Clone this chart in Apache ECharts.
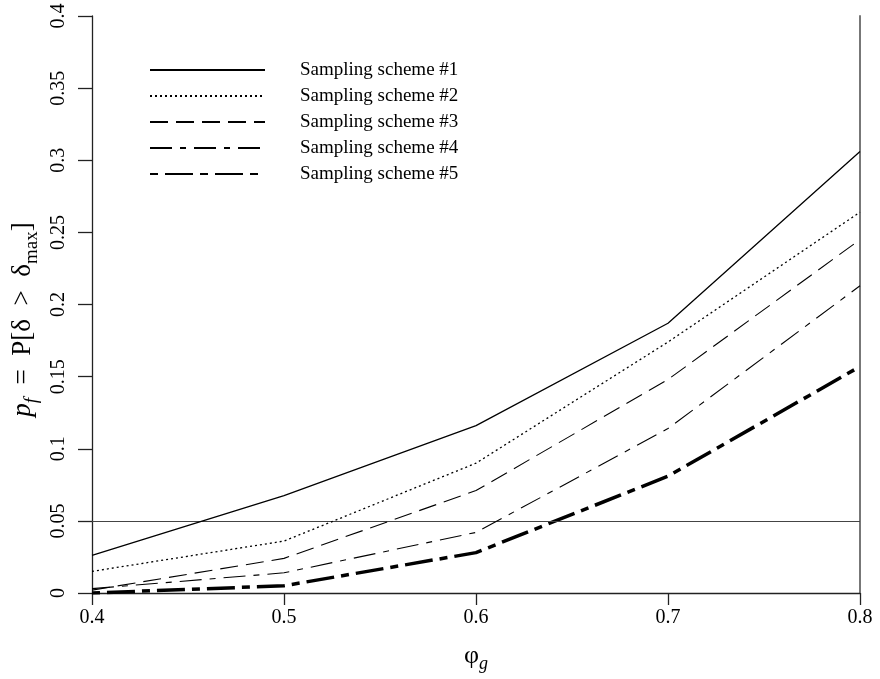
<!DOCTYPE html>
<html>
<head>
<meta charset="utf-8">
<script src="https://cdn.jsdelivr.net/npm/echarts@6/dist/echarts.min.js"></script>
<style>html,body{margin:0;padding:0;background:#fff}#c{width:880px;height:679px}</style>
</head>
<body>
<div id="c"></div>
<script>
const xValues = [0.4, 0.5, 0.6, 0.7, 0.8];
const seriesNames = ['Sampling scheme #1','Sampling scheme #2','Sampling scheme #3','Sampling scheme #4','Sampling scheme #5'];
const scheme1 = [0.026, 0.0675, 0.116, 0.187, 0.306];
const scheme2 = [0.015, 0.036, 0.090, 0.174, 0.264];
const scheme3 = [0.002, 0.024, 0.071, 0.148, 0.245];
const scheme4 = [0.003, 0.014, 0.042, 0.114, 0.213];
const scheme5 = [0.000, 0.005, 0.028, 0.081, 0.157];
const thresholdValue = 0.05;
const yTicks = {min: 0, max: 0.4, interval: 0.05};
const xTicks = {min: 0.4, max: 0.8, interval: 0.1};

const allData = [scheme1, scheme2, scheme3, scheme4, scheme5];
const styles = [
  {width: 1.3, type: 'solid'},
  {width: 1.3, type: [2, 3]},
  {width: 1.1, type: [18, 8]},
  {width: 1.1, type: [22, 8, 6, 8]},
  {width: 3.5, type: [8, 7, 28, 7]}
];
const FONT = '"Liberation Serif", "DejaVu Serif", serif';

const series = allData.map((d, i) => {
  const s = {
    name: seriesNames[i],
    type: 'line',
    data: xValues.map((x, j) => [x, d[j]]),
    symbol: 'none',
    showSymbol: false,
    lineStyle: Object.assign({color: '#000'}, styles[i]),
    itemStyle: {color: '#000'},
    z: 8 - i,
    animation: false
  };
  if (i === 0) {
    s.markLine = {
      silent: true,
      symbol: 'none',
      label: {show: false},
      lineStyle: {color: '#444', type: 'solid', width: 1.1},
      data: [{yAxis: thresholdValue}],
      animation: false
    };
  }
  return s;
});

const chart = echarts.init(document.getElementById('c'), null, {renderer: 'canvas'});
chart.setOption({
  backgroundColor: '#fff',
  animation: false,
  textStyle: {fontFamily: FONT},
  grid: {left: 92, right: 20, top: 16, bottom: 86},
  legend: {
    orient: 'vertical',
    left: 144,
    top: 54,
    itemWidth: 115,
    itemHeight: 14,
    itemGap: 4,
    data: seriesNames,
    itemStyle: {opacity: 0},
    textStyle: {fontFamily: FONT, fontSize: 19, lineHeight: 22, color: '#000', padding: [0, 0, 0, 30]},
    selectedMode: false
  },
  xAxis: {
    type: 'value',
    min: xTicks.min, max: xTicks.max, interval: xTicks.interval,
    axisLine: {show: true, onZero: false, lineStyle: {color: '#222', width: 1.3}},
    axisTick: {show: true, length: 12, lineStyle: {color: '#222', width: 1.3}},
    axisLabel: {margin: 15, fontSize: 20, color: '#000', fontFamily: FONT,
      formatter: v => (+v).toFixed(1)},
    splitLine: {show: false},
    name: '{m|φ}{s|g}',
    nameLocation: 'middle',
    nameGap: 46,
    nameTextStyle: {
      rich: {
        m: {fontFamily: FONT, fontSize: 26, color: '#000', verticalAlign: 'middle', lineHeight: 34},
        s: {fontFamily: FONT, fontSize: 18, fontStyle: 'italic', color: '#000', verticalAlign: 'bottom', lineHeight: 34}
      }
    }
  },
  yAxis: [{
    type: 'value',
    min: yTicks.min, max: yTicks.max, interval: yTicks.interval,
    axisLine: {show: true, onZero: false, lineStyle: {color: '#222', width: 1.3}},
    axisTick: {show: true, length: 14, lineStyle: {color: '#222', width: 1.3}},
    axisLabel: {margin: 23, rotate: 90, fontSize: 20, color: '#000', fontFamily: FONT,
      formatter: v => String(+(+v).toFixed(2))},
    splitLine: {show: false},
    name: '{i|p}{si|f}{m|  =  P[δ  >  δ}{s|max}{e|]}',
    nameLocation: 'middle',
    nameRotate: 90,
    nameGap: 42,
    nameTextStyle: {
      rich: {
        i: {fontFamily: FONT, fontSize: 27, fontStyle: 'italic', color: '#000', verticalAlign: 'middle', lineHeight: 36},
        m: {fontFamily: FONT, fontSize: 27, color: '#000', verticalAlign: 'middle', lineHeight: 36},
        e: {fontFamily: FONT, fontSize: 27, color: '#000', verticalAlign: 'middle', lineHeight: 36, padding: [0, 30, 0, 0]},
        s: {fontFamily: FONT, fontSize: 19, color: '#000', verticalAlign: 'bottom', lineHeight: 36},
        si: {fontFamily: FONT, fontSize: 19, fontStyle: 'italic', color: '#000', verticalAlign: 'bottom', lineHeight: 36}
      }
    }
  }, {
    type: 'value',
    position: 'right',
    min: yTicks.min, max: yTicks.max, interval: yTicks.interval,
    axisLine: {show: true, onZero: false, lineStyle: {color: '#777', width: 2}},
    axisTick: {show: false},
    axisLabel: {show: false},
    splitLine: {show: false}
  }],
  series: series
});
</script>
</body>
</html>
